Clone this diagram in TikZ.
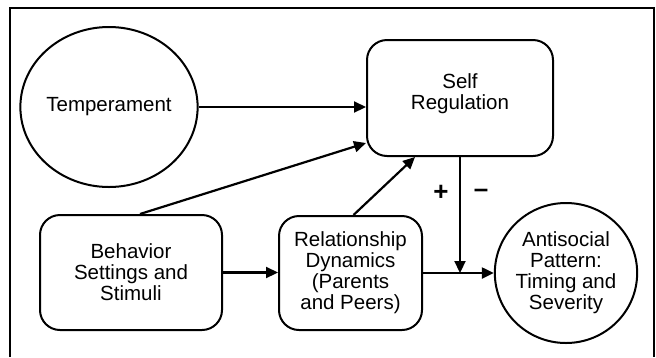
\documentclass[tikz,border=0pt]{standalone}
\usepackage{fontspec}
\setmainfont{Liberation Sans}
\usetikzlibrary{shapes.geometric,arrows.meta}
\begin{document}
\begin{tikzpicture}[x=1pt,y=-1pt,
  every node/.style={font=\fontsize{20.5}{21}\selectfont, align=center, inner sep=0pt},
  roundbox/.style={draw, line width=2pt, rounded corners=20pt},
  oval/.style={draw, ellipse, line width=2pt},
  arr/.style={line width=2.2pt, -{Triangle[length=12pt,width=11pt]}},
  sign/.style={font=\fontsize{26}{26}\selectfont\bfseries}]
  \useasboundingbox (0,0) rectangle (656,357);
  % open frame (bottom edge cut off)
  \draw[line width=2pt] (10,357) -- (10,8) -- (654,8) -- (654,357);

  % nodes
  \node[oval, minimum width=156pt, minimum height=160pt] (temp) at (109,107) {Temperament};
  \node[roundbox, minimum width=186pt, minimum height=116pt] (self) at (460,98) {};
  \node (selftxt) at (460,94) {Self\\Regulation};
  \node[roundbox, minimum width=182pt, minimum height=115pt] (beh) at (131,272.5) {Behavior\\Settings and\\Stimuli};
  \node[roundbox, minimum width=143pt, minimum height=114pt] (rel) at (350.5,273) {Relationship\\Dynamics\\(Parents\\and Peers)};
  \node[oval, minimum width=138pt, minimum height=140pt] (anti) at (566,273) {Antisocial\\Pattern:\\Timing and\\Severity};

  % connectors
  \draw[arr] (temp.east) -- (temp.east -| self.west);
  \draw[arr] ([xshift=9pt]beh.north) -- ([yshift=-45pt]self.west);
  \draw[arr] ([xshift=3pt]rel.north) -- ([xshift=-45pt]self.south);
  \draw[arr] (beh.east) -- (beh.east -| rel.west);
  \draw[arr] (rel.east) -- (anti.west);
  \coordinate (join) at (self.south |- rel.east);
  \draw[arr] (self.south) -- (join);

  % signs on the moderating path
  \node[sign] (plus) at (441,193) {+};
  \node[sign] (minus) at (481,193) {\textendash};
\end{tikzpicture}
\end{document}
